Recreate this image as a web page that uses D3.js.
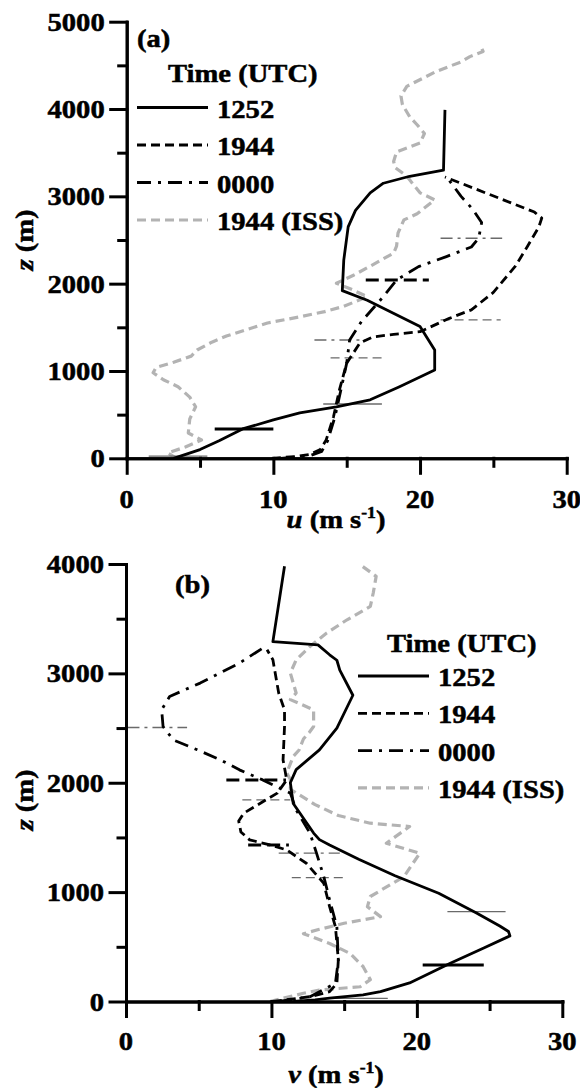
<!DOCTYPE html>
<html>
<head>
<meta charset="utf-8">
<script src="https://cdn.jsdelivr.net/npm/d3@7"></script>
<style>
body { margin: 0; background: #fff; }
svg { display: block; }
</style>
</head>
<body>
<svg id="chart" width="580" height="1088"></svg>
<script>
// Series names (legend order)
const seriesNames = ["1252", "1944", "0000", "1944 (ISS)"];

// Panel (a): pairs of [z (m), u (m/s)]
const uA1252 = [[0,3.2],[100,5.0],[200,6.3],[336,7.9],[440,10.0],[520,11.8],[590,14.3],[670,16.6],[820,18.6],[1010,21.0],[1240,21.0],[1510,20.0],[1810,16.4],[1920,14.7],[2270,14.8],[2650,15.1],[2840,15.6],[3040,16.6],[3150,17.5],[3230,19.3],[3300,21.6],[3990,21.7]];
const uA1944 = [[0,9.9],[20,11.5],[45,12.5],[100,13.2],[210,13.6],[475,14.1],[780,14.5],[1090,15.0],[1320,15.9],[1390,16.8],[1420,18.2],[1450,20.0],[1603,22.0],[1700,23.5],[1900,25.0],[2200,26.5],[2420,27.3],[2650,28.1],[2750,28.3],[2820,27.8],[3222,21.7]];
const uA0000 = [[0,10.5],[30,12.5],[80,13.3],[200,13.7],[475,14.2],[780,14.6],[1090,15.0],[1355,15.2],[1565,16.0],[1833,17.4],[2042,18.4],[2195,19.9],[2310,21.8],[2420,23.5],[2520,24.0],[2700,24.2],[2850,23.6],[3000,22.8],[3180,22.0],[3222,21.7]];
const uAISS = [[0,3.4],[60,2.8],[130,4.0],[210,5.1],[290,4.2],[450,4.3],[590,4.7],[700,4.3],[820,3.5],[900,2.5],[980,1.8],[1040,2.0],[1100,3.2],[1170,4.4],[1240,4.8],[1330,5.8],[1400,6.8],[1480,8.3],[1550,9.6],[1620,11.8],[1680,13.5],[1740,14.8],[1850,16.4],[1930,15.4],[2005,14.3],[2100,15.5],[2200,16.6],[2350,18.2],[2430,18.4],[2580,18.5],[2730,18.9],[2800,19.8],[2960,21.0],[3040,20.0],[3230,19.1],[3330,18.3],[3400,18.2],[3510,18.4],[3610,20.0],[3720,20.3],[3820,19.8],[3910,19.3],[4050,18.8],[4150,18.7],[4260,19.1],[4430,21.1],[4540,22.8],[4600,23.4],[4660,24.3],[4735,24.1]];

// Panel (b): pairs of [z (m), v (m/s)]
const vB1252 = [[0,11.5],[15,13.0],[30,14.0],[60,16.3],[90,17.5],[170,19.5],[350,22.3],[490,24.6],[600,26.4],[640,26.3],[690,25.7],[810,24.1],[990,21.5],[1150,18.5],[1300,16.0],[1430,14.0],[1480,13.3],[1540,12.9],[1810,11.5],[2000,11.3],[2120,11.7],[2300,13.3],[2500,14.5],[2800,15.6],[3030,14.7],[3120,14.5],[3170,14.0],[3260,13.2],[3290,10.1],[3980,10.9]];
const vB1944 = [[0,10.1],[44,12.65],[90,14.0],[166,14.5],[380,14.6],[684,14.4],[867,14.0],[1081,13.6],[1264,12.4],[1386,11.05],[1432,9.9],[1478,8.5],[1550,7.9],[1650,7.75],[1722,8.1],[1905,10.4],[2026,11.05],[2209,10.8],[2514,10.9],[2667,10.9],[2820,10.5],[3124,10.1],[3216,9.7]];
const vB0000 = [[0,10.5],[44,12.65],[166,14.4],[380,14.6],[684,14.5],[929,14.0],[1142,13.6],[1356,13.1],[1539,12.65],[1752,11.7],[1905,11.3],[1935,10.8],[2026,9.4],[2118,7.8],[2209,6.5],[2301,4.9],[2392,3.25],[2514,2.55],[2667,2.45],[2789,3.0],[2911,5.1],[3094,7.8],[3231,9.4]];
const vBISS = [[0,9.9],[75,12.2],[105,13.3],[135,16.1],[200,16.8],[320,16.3],[440,15.4],[530,14.0],[620,12.2],[660,13.3],[715,15.0],[776,17.5],[867,16.6],[960,16.8],[1140,19.1],[1356,20.2],[1447,17.9],[1600,19.5],[1630,16.8],[1700,14.6],[1800,13.0],[1900,11.8],[1940,11.3],[2030,11.3],[2090,11.05],[2240,11.5],[2300,11.9],[2400,12.2],[2460,12.6],[2514,12.9],[2667,12.9],[2760,11.3],[2820,11.7],[3003,11.3],[3124,11.7],[3246,12.65],[3369,13.8],[3490,15.2],[3612,16.8],[3735,17.0],[3887,17.2],[3994,16.1]];

// Horizontal bars: [line kind, thick?, z, low, high]
const barsA = [["solid",true,336,6.0,10.0],["solid",false,25,1.5,5.5],["solid",false,622,13.4,17.4],["dash",false,1150,13.9,17.5],["dashdot",false,1355,12.8,16.4],["dash",false,1585,21.4,25.5],["dashdot",false,2520,21.4,25.6],["dash",true,2042,16.3,20.6]];
const barsB = [["solid",true,334,20.4,24.6],["solid",false,822,22.1,26.1],["solid",false,29,14.0,18.0],["dashdot",false,2505,0.1,4.2],["dash",true,2026,6.9,11.0],["dash",false,1844,8.0,11.3],["dash",true,1432,8.4,11.2],["dashdot",false,1356,10.5,14.7],["dash",false,1133,11.4,14.95]];

// Tick values
const xMajor = [0, 10, 20, 30];
const xMinor = [5, 15, 25];
const zMajorA = [0, 1000, 2000, 3000, 4000, 5000];
const zMinorA = [500, 1500, 2500, 3500, 4500];
const zMajorB = [0, 1000, 2000, 3000, 4000];
const zMinorB = [500, 1500, 2500, 3500];

const svg = d3.select("#chart");
const FONT = '"Liberation Serif", "Times New Roman", serif';
const SX = 1.1;   // glyphs in the figure are a bit wider than tall
const FS = 26;

const styles = {
    "1252":       { color: "#000", width: 2.8, dash: null },
    "1944":       { color: "#000", width: 2.8, dash: "9,5" },
    "0000":       { color: "#000", width: 2.8, dash: "14,7,3,7" },
    "1944 (ISS)": { color: "#b3b3b3", width: 3.2, dash: "9,5" }
};
const barDash = { solid: null, dash: "9,5", dashdot: "12,5,3,5" };

function baseText(g, x, y, anchor, rotate, size) {
    return g.append("text")
        .attr("transform", `translate(${x},${y}) ${rotate ? "rotate(-90)" : ""} scale(${SX},1)`)
        .attr("text-anchor", anchor)
        .style("font-family", FONT)
        .style("font-weight", "bold")
        .style("font-size", (size || FS) + "px")
        .attr("fill", "#000")
        .attr("stroke", "#000")
        .attr("stroke-width", 0.5);   // the scanned figure prints heavier than plain bold
}

function txt(g, x, y, str, anchor) {
    return baseText(g, x, y, anchor || "start", false).text(str);
}

function axisTitle(g, x, y, sym, rotate) {
    const t = baseText(g, x, y, "middle", rotate);
    t.append("tspan").style("font-style", "italic").text(sym);
    if (rotate) {
        t.append("tspan").text(" (m)");
    } else {
        t.append("tspan").text(" (m s");
        t.append("tspan").attr("dy", -10).style("font-size", "16px").text("-1");
        t.append("tspan").attr("dy", 10).text(")");
    }
}

function panel(cfg) {
    const { x, y, series, bars, zMajor, zMinor, tag, tagPos, legend, zTitleY, xTitleY, xLabelY } = cfg;
    const g = svg.append("g");

    const line = d3.line().x(d => x(d[1])).y(d => y(d[0]));

    const order = ["1944 (ISS)", "1252", "1944", "0000"];
    const drawSeries = name => {
        const s = styles[name];
        g.append("path")
            .datum(series[name])
            .attr("d", line)
            .attr("fill", "none")
            .attr("stroke", s.color)
            .attr("stroke-width", s.width)
            .attr("stroke-dasharray", s.dash)
            .attr("stroke-linejoin", "round");
    };
    // grey ISS profile underneath
    drawSeries(order[0]);

    // error bars
    g.selectAll(null)
        .data(bars)
        .enter()
        .append("line")
        .attr("x1", d => x(d[3]))
        .attr("x2", d => x(d[4]))
        .attr("y1", d => y(d[2]))
        .attr("y2", d => y(d[2]))
        .attr("stroke", d => d[1] ? "#000" : "#6a6a6a")
        .attr("stroke-width", d => d[1] ? 3 : 1.3)
        .attr("stroke-dasharray", d => d[1] && d[0] === "dash" ? "13,6" : barDash[d[0]]);

    order.slice(1).forEach(drawSeries);

    // axes
    const x0 = x.range()[0], y0 = y.range()[0];
    const axes = g.append("g");
    axes.append("g").attr("transform", `translate(${x0},0)`)
        .call(d3.axisLeft(y).tickValues(zMajor).tickSize(16).tickSizeOuter(0).tickFormat(""));
    axes.append("g").attr("transform", `translate(${x0},0)`)
        .call(d3.axisLeft(y).tickValues(zMinor).tickSize(8).tickSizeOuter(0).tickFormat(""));
    axes.append("g").attr("transform", `translate(0,${y0})`)
        .call(d3.axisBottom(x).tickValues(xMajor).tickSize(15).tickSizeOuter(0).tickFormat(""));
    axes.append("g").attr("transform", `translate(0,${y0})`)
        .call(d3.axisBottom(x).tickValues(xMinor).tickSize(8).tickSizeOuter(0).tickFormat(""));
    axes.selectAll("path, line").attr("stroke", "#000").attr("stroke-width", 3).attr("stroke-linecap", "square");

    // tick labels
    zMajor.forEach(v => txt(g, x0 - 22, y(v) + 9, String(v), "end"));
    xMajor.forEach(v => txt(g, x(v), xLabelY, String(v), "middle"));

    axisTitle(g, 33, zTitleY, "z", true);
    axisTitle(g, 336, xTitleY, cfg.xSym, false);

    txt(g, tagPos[0], tagPos[1], tag, "start");

    // legend
    txt(g, legend.titleX, legend.titleY, "Time (UTC)", "start");
    seriesNames.forEach((name, i) => {
        const cy = legend.rowY + i * legend.step;
        const s = styles[name];
        g.append("line")
            .attr("x1", legend.lineX).attr("x2", legend.lineX + 71)
            .attr("y1", cy).attr("y2", cy)
            .attr("stroke", s.color).attr("stroke-width", s.width)
            .attr("stroke-dasharray", s.dash);
        txt(g, legend.lineX + 80, cy + 10, name, "start");
    });
}

panel({
    x: d3.scaleLinear().domain([0, 30]).range([126.7, 566.7]),
    y: d3.scaleLinear().domain([0, 5000]).range([458.3, 21.7]),
    series: { "1252": uA1252, "1944": uA1944, "0000": uA0000, "1944 (ISS)": uAISS },
    bars: barsA,
    zMajor: zMajorA, zMinor: zMinorA,
    tag: "(a)", tagPos: [137, 47],
    legend: { titleX: 168, titleY: 82, lineX: 137, rowY: 107.5, step: 37.5 },
    zTitleY: 240, xTitleY: 528, xLabelY: 508, xSym: "u"
});

panel({
    x: d3.scaleLinear().domain([0, 30]).range([126, 562.3]),
    y: d3.scaleLinear().domain([0, 4000]).range([1001.5, 564]),
    series: { "1252": vB1252, "1944": vB1944, "0000": vB0000, "1944 (ISS)": vBISS },
    bars: barsB,
    zMajor: zMajorB, zMinor: zMinorB,
    tag: "(b)", tagPos: [175, 593],
    legend: { titleX: 387, titleY: 652, lineX: 358, rowY: 676, step: 37.3 },
    zTitleY: 800, xTitleY: 1083, xLabelY: 1050, xSym: "v"
});
</script>
</body>
</html>
